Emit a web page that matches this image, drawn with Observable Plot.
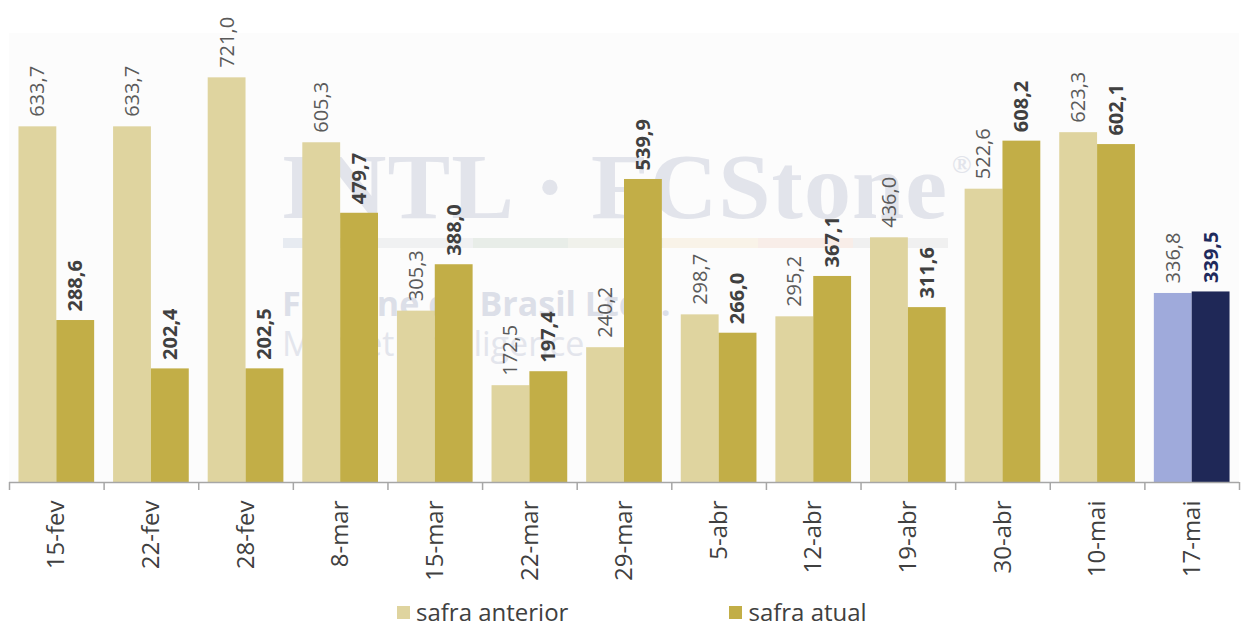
<!DOCTYPE html>
<html><head><meta charset="utf-8">
<script src="https://cdn.jsdelivr.net/npm/d3@7"></script>
<script src="https://cdn.jsdelivr.net/npm/@observablehq/plot@0.6"></script>
<style>
body{margin:0;background:#fff;font-family:"Open Sans",sans-serif;}
#wrap{position:relative;width:1244px;height:627px;overflow:hidden;}
#bg{position:absolute;left:9px;top:33px;width:1230px;height:449px;background:#fcfcfc;}
.wm{position:absolute;white-space:nowrap;}
#wm1{left:281px;top:132px;font-family:"Liberation Serif",serif;font-weight:bold;font-size:94px;color:#e2e4eb;letter-spacing:1px;}
#wm1 sup{font-size:26px;vertical-align:top;position:relative;top:18px;margin-left:4px;}
#strip{position:absolute;left:283px;top:238px;width:665px;height:10px;display:flex;opacity:0.5;}
#strip div{flex:1;}
#wm2{left:282px;top:280px;font-family:"Open Sans",sans-serif;font-weight:bold;font-size:34px;color:#dcdfe8;}
#wm3{left:282px;top:320px;font-family:"Open Sans",sans-serif;font-size:34px;color:#e3e5ec;}
#chart{position:absolute;left:0;top:0;}
#legend{position:absolute;top:597px;left:397px;display:flex;align-items:center;font-size:24px;color:#404040;line-height:30px;}
.item{display:flex;align-items:center;}
.sw{width:13px;height:13px;margin-right:6px;}
</style>
</head>
<body>
<div id="wrap">
  <div id="bg"></div>
  <div class="wm" id="wm1">INTL · FCStone<sup>®</sup></div>
  <div id="strip"><div style="background:#d4dbe8"></div><div style="background:#e6e8ea"></div><div style="background:#d5e0d5"></div><div style="background:#e6e8dc"></div><div style="background:#f7ecd6"></div><div style="background:#f5dfd6"></div><div style="background:#e6e6e6"></div></div>
  <div class="wm" id="wm2">FCStone do Brasil Ltda.</div>
  <div class="wm" id="wm3">Market Intelligence</div>
  <div id="chart"></div>
  <div id="legend">
    <div class="item"><div class="sw" style="background:#dfd49f"></div><span>safra anterior</span></div>
    <div class="item" style="margin-left:161px"><div class="sw" style="background:#c2ae47"></div><span>safra atual</span></div>
  </div>
</div>
<script>
const categories = ["15-fev","22-fev","28-fev","8-mar","15-mar","22-mar","29-mar","5-abr","12-abr","19-abr","30-abr","10-mai","17-mai"];
const safraAnterior = [633.7,633.7,721.0,605.3,305.3,172.5,240.2,298.7,295.2,436.0,522.6,623.3,336.8];
const safraAtual = [288.6,202.4,202.5,479.7,388.0,197.4,539.9,266.0,367.1,311.6,608.2,602.1,339.5];
const highlight = "17-mai";

const rows = categories.map((c, i) => ({i, cat: c, prior: safraAnterior[i], current: safraAtual[i]}));
const fmt = v => d3.format(".1f")(v).replace(".", ",");
const isHL = d => d.cat === highlight;

const plot = Plot.plot({
  width: 1244, height: 595,
  marginTop: 33, marginBottom: 113, marginLeft: 9, marginRight: 5,
  style: {background: "transparent", fontFamily: "Open Sans"},
  x: {type: "linear", domain: [0, categories.length]},
  y: {domain: [0, 800], axis: null},
  marks: [
    Plot.rectY(rows, {x1: d => d.i + 0.1, x2: d => d.i + 0.5, y: "prior", fill: d => isHL(d) ? "#9faadb" : "#dfd49f"}),
    Plot.rectY(rows, {x1: d => d.i + 0.5, x2: d => d.i + 0.9, y: "current", fill: d => isHL(d) ? "#1f2857" : "#c2ae47"}),
    Plot.ruleY([0], {stroke: "#a6a6a6", strokeWidth: 1.5}),
    Plot.axisX({ticks: d3.range(categories.length + 1), tickFormat: () => "", tickSize: 8, stroke: "#a6a6a6", strokeWidth: 1.5}),
    Plot.text(rows, {x: d => d.i + 0.5, y: () => 0, text: "cat", rotate: -90, textAnchor: "end", lineAnchor: "middle", dy: 18, fontSize: 24, fill: "#404040"}),
    Plot.text(rows, {x: d => d.i + 0.3, y: "prior", text: d => fmt(d.prior), rotate: -90, textAnchor: "start", lineAnchor: "middle", dy: -10, fontSize: 20, fill: "#5a5a5a"}),
    Plot.text(rows, {x: d => d.i + 0.7, y: "current", text: d => fmt(d.current), rotate: -90, textAnchor: "start", lineAnchor: "middle", dy: -9, fontSize: 20, fontWeight: "bold", fill: d => isHL(d) ? "#1f2a5c" : "#404040"})
  ]
});
document.getElementById("chart").appendChild(plot);
</script>
</body></html>
